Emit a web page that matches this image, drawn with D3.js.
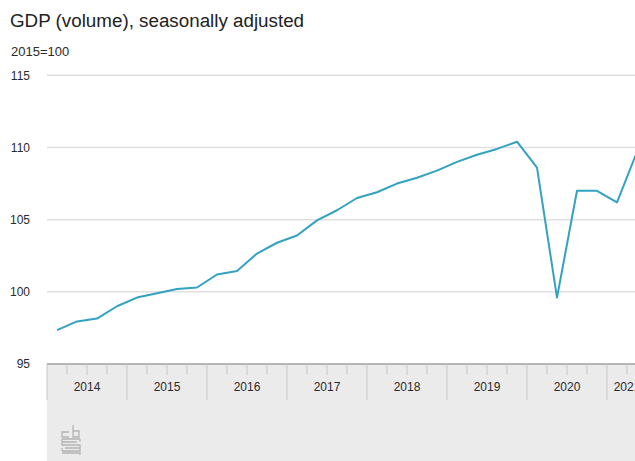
<!DOCTYPE html>
<html><head><meta charset="utf-8">
<script src="https://cdn.jsdelivr.net/npm/d3@7"></script>
<style>
html,body{margin:0;padding:0;background:#fff;overflow:hidden;}
svg{display:block;font-family:"Liberation Sans",Arial,sans-serif;}
</style></head>
<body>
<svg id="chart" width="635" height="461"></svg>
<script>
const years = ["2014","2015","2016","2017","2018","2019","2020","2021"];
const quartersPerYear = [4,4,4,4,4,4,4,2];
const gdp = [97.35, 97.95, 98.15, 99.0, 99.6, 99.9, 100.2, 100.3,
             101.2, 101.45, 102.65, 103.4, 103.9, 104.95, 105.65, 106.5,
             106.9, 107.5, 107.9, 108.4, 109.0, 109.5, 109.9, 110.4,
             108.6, 99.6, 107.0, 107.0, 106.2, 109.7];
const yTicks = [95, 100, 105, 110, 115];
const title = "GDP (volume), seasonally adjusted";
const unitLabel = "2015=100";

(function () {
const quarters = [];
years.forEach((yr, i) => { for (let q = 1; q <= quartersPerYear[i]; q++) quarters.push(yr + "Q" + q); });

const svg = d3.select("#chart");
const W = 635, H = 461;
const mLeft = 47, mTop = 75.3, mBottom = 364;

const x = d3.scaleBand().domain(quarters).range([mLeft, mLeft + quarters.length * 20]).padding(0);
const y = d3.scaleLinear().domain([95, 115]).range([mBottom, mTop]);

// gray footer band
svg.append("rect").attr("x", mLeft).attr("y", mBottom).attr("width", W - mLeft + 40).attr("height", H - mBottom).attr("fill", "#ebebeb");

// gridlines
svg.append("g").selectAll("line").data(yTicks.filter(d => d !== 95)).join("line")
  .attr("x1", mLeft).attr("x2", W + 20)
  .attr("y1", d => y(d)).attr("y2", d => y(d))
  .attr("stroke", "#e0e0e0").attr("stroke-width", 1.5);

// y tick labels
svg.append("g").selectAll("text").data(yTicks).join("text")
  .attr("x", 30).attr("y", d => y(d)).attr("dy", "0.35em")
  .attr("text-anchor", "end").attr("font-size", 12).attr("fill", "#2a2a2a")
  .text(d => d);

// x axis line
svg.append("line").attr("x1", mLeft).attr("x2", W + 20).attr("y1", mBottom).attr("y2", mBottom)
  .attr("stroke", "#a0a0a0").attr("stroke-width", 1.5);

// quarter ticks and year separators
const tickG = svg.append("g");
quarters.forEach(q => {
  const xb = x(q);
  const isYearStart = q.endsWith("Q1");
  tickG.append("line").attr("x1", xb).attr("x2", xb)
    .attr("y1", mBottom).attr("y2", isYearStart ? 400 : 375)
    .attr("stroke", "#c8c8c8").attr("stroke-width", 1);
});
const lastQ = quarters[quarters.length - 1];
tickG.append("line").attr("x1", x(lastQ) + x.bandwidth()).attr("x2", x(lastQ) + x.bandwidth())
  .attr("y1", mBottom).attr("y2", 400).attr("stroke", "#c8c8c8");

// year labels
svg.append("g").selectAll("text").data(years).join("text")
  .attr("x", d => { const qs = quarters.filter(q => q.startsWith(d)); return (x(qs[0]) + x(qs[qs.length-1]) + x.bandwidth()) / 2; })
  .attr("y", 391).attr("text-anchor", "middle").attr("font-size", 12).attr("fill", "#2a2a2a")
  .text(d => d);

// line
const line = d3.line().x((d, i) => x(quarters[i]) + x.bandwidth() / 2).y(d => y(d));
svg.append("path").datum(gdp).attr("d", line).attr("fill", "none")
  .attr("stroke", "#33a2c1").attr("stroke-width", 2).attr("stroke-linejoin", "round");

// title
svg.append("text").attr("x", 10).attr("y", 27).attr("font-size", 18.8).attr("fill", "#222").text(title);
svg.append("text").attr("x", 11).attr("y", 56).attr("font-size", 13).attr("fill", "#2a2a2a").text(unitLabel);

// cbs logo (decorative)
const logo = svg.append("g").attr("transform", "translate(61,425)").attr("fill", "none")
  .attr("stroke", "#b4b4b4").attr("stroke-width", 1.3);
logo.append("path").attr("d", "M12,0 V6 H18 V12 H12 V6");
logo.append("path").attr("d", "M8,7 H1 V12 H8");
logo.append("path").attr("d", "M1,14 H19 M1,14 V20 H19 V26 H1 M1,17 H16 M4,23 H19 M1,28 H19 V30");
logo.append("path").attr("d", "M19,14 V17 M1,23 V26");
})();
</script>
</body></html>
